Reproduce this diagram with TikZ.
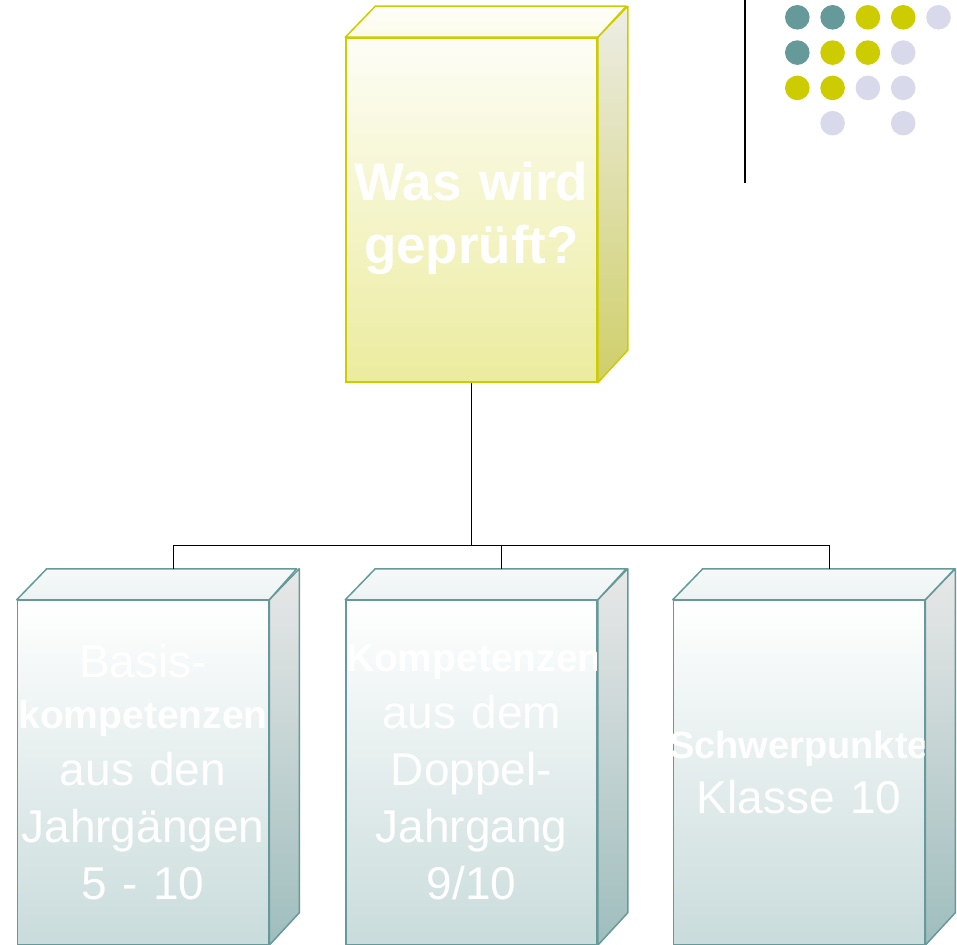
\documentclass[tikz,border=0pt]{standalone}
\usepackage{fontspec}
\setmainfont{Liberation Sans}
\definecolor{gelb}{HTML}{CCCC00}
\definecolor{petrol}{HTML}{669999}
\definecolor{lila}{HTML}{D9D9EC}
\definecolor{gelbseiteoben}{HTML}{EDEDE6}
\definecolor{gelbseiteunten}{HTML}{CFCF6A}
\definecolor{blauseiteoben}{HTML}{E8E8E8}
\definecolor{blauseiteunten}{HTML}{9FBDBD}
\begin{document}
\begin{tikzpicture}[x=1pt,y=-1pt,
    quader/.style={rectangle, minimum width=251pt, minimum height=344pt, inner sep=0pt,
        text width=251pt, align=center, text=white, line width=1.5pt},
    gelbfront/.style={quader, draw=gelb, top color=gelb!3, bottom color=gelb!38,
        font=\bfseries\fontsize{53}{63}\selectfont, text height=54pt, text depth=74pt},
    blaufront/.style={quader, draw=petrol, top color=white, bottom color=petrol!35,
        font=\fontsize{46}{57}\selectfont},
    gelbrand/.style={draw=gelb, line width=1.5pt, line join=round},
    blaurand/.style={draw=petrol, line width=1.5pt, line join=round},
    linie/.style={line width=0.8pt}]
\useasboundingbox (0,0) rectangle (957,944);

% Kisten
\node [gelbfront] (frage) at (471.5,210) {Was wird\\ geprüft?};
\node [blaufront] (basis) at (143,772.5)
    {Basis-\\[-6pt]
     {\bfseries\fontsize{39}{57}\selectfont kompetenzen}\\
     aus den\\ Jahrgängen\\ 5 - 10};
\node [blaufront] (doppel) at (471.5,772.5)
    {{\bfseries\fontsize{39}{57}\selectfont Kompetenzen}\\
     aus dem\\ Doppel-\\ Jahrgang\\ 9/10};
\node [blaufront] (schwer) at (799,772.5)
    {\makebox[\linewidth]{\bfseries\fontsize{38}{57}\selectfont Schwerpunkte}\\[-2pt]
     Klasse 10};

% Seiten und Deckel
\shade [gelbrand, top color=gelbseiteoben, bottom color=gelbseiteunten]
    (frage.north east) -- ++(30,-31) -- ++(0,344) -- (frage.south east) -- cycle;
\shade [gelbrand, top color=gelb!2, bottom color=gelb!8]
    (frage.north west) -- ++(30,-31) -- ++(251,0) -- (frage.north east) -- cycle;
\shade [blaurand, top color=blauseiteoben, bottom color=blauseiteunten]
    (basis.north east) -- ++(30,-31) -- ++(0,344) -- (basis.south east) -- cycle;
\shade [blaurand, top color=petrol!6, bottom color=petrol!12]
    (basis.north west) -- ++(30,-31) -- ++(250,0) -- (basis.north east) -- cycle;
\shade [blaurand, top color=blauseiteoben, bottom color=blauseiteunten]
    (doppel.north east) -- ++(30,-31) -- ++(0,344) -- (doppel.south east) -- cycle;
\shade [blaurand, top color=petrol!6, bottom color=petrol!12]
    (doppel.north west) -- ++(30,-31) -- ++(251,0) -- (doppel.north east) -- cycle;
\shade [blaurand, top color=blauseiteoben, bottom color=blauseiteunten]
    (schwer.north east) -- ++(30,-31) -- ++(0,344) -- (schwer.south east) -- cycle;
\shade [blaurand, top color=petrol!6, bottom color=petrol!12]
    (schwer.north west) -- ++(30,-31) -- ++(252,0) -- (schwer.north east) -- cycle;

% Verbindungen
\draw [linie] (frage.south) -- ++(0,163) coordinate (knoten);
\draw [linie] (knoten) -| ([xshift=30pt,yshift=31pt]basis.north);
\draw [linie] (knoten) -| ([xshift=30pt,yshift=31pt]doppel.north);
\draw [linie] (knoten) -| ([xshift=30pt,yshift=31pt]schwer.north);

% Punkte und Strich
\draw [line width=2pt] (745,0) -- (745,183);
\foreach \sx/\sy/\farbe in {0/0/petrol, 1/0/petrol, 2/0/gelb, 3/0/gelb, 4/0/lila,
        0/1/petrol, 1/1/gelb, 2/1/gelb, 3/1/lila,
        0/2/gelb, 1/2/gelb, 2/2/lila, 3/2/lila,
        1/3/lila, 3/3/lila}
    \fill [\farbe] (797.3+35.3*\sx, 17.3+35.3*\sy) circle (12.3);
\end{tikzpicture}
\end{document}
